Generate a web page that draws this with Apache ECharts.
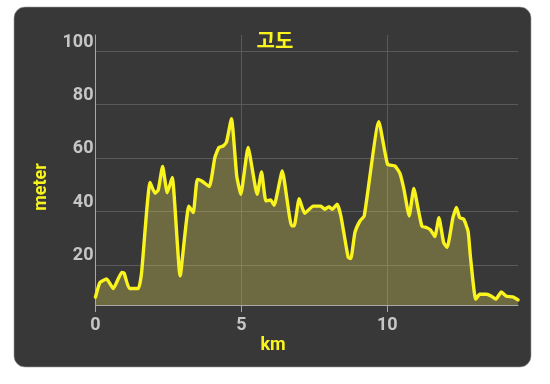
<!DOCTYPE html>
<html>
<head>
<meta charset="utf-8">
<script src="https://cdn.jsdelivr.net/npm/echarts@6/dist/echarts.min.js"></script>
<style>
html,body{margin:0;padding:0;background:#ffffff;}
#c{width:550px;height:384px;}
</style>
</head>
<body>
<div id="c"></div>
<script>
// Distance along route (km)
const distanceKm = [0.00,0.15,0.38,0.61,0.90,0.98,1.16,1.47,1.58,1.87,2.04,2.15,2.30,2.46,2.63,2.90,3.20,3.35,3.49,3.64,3.90,4.09,4.23,4.38,4.49,4.66,4.84,4.98,5.23,5.54,5.69,5.84,6.00,6.12,6.40,6.72,6.81,6.98,7.17,7.46,7.72,7.86,8.00,8.11,8.28,8.41,8.66,8.75,8.89,9.06,9.21,9.71,10.01,10.26,10.43,10.57,10.75,10.91,11.06,11.19,11.34,11.48,11.63,11.77,11.93,12.05,12.25,12.37,12.48,12.62,12.77,12.85,13.03,13.17,13.40,13.57,13.72,13.91,14.08,14.30,14.48];
// Altitude (meter)
const altitudeM = [8,13.4,14.7,11.2,17.2,17,11.2,11.2,17.2,50.8,46.8,48,56.8,47,52.7,15.9,42,39.6,52,51.4,49.3,60.1,63.9,64.5,66,74.7,53.3,46.4,63.9,46.4,54.8,43.9,44.3,42.3,55.1,34.6,34.6,44.8,39.3,42,42,40.8,41.8,40.8,42.7,38.3,22.8,22.4,32.1,36.4,38.3,73.6,57.6,57,54.3,48.3,38.3,48.6,40.8,34.4,34,33.1,30.6,37.7,28.4,26.5,37.7,41.5,37.7,37.1,32.5,23,7.2,9.0,9.0,8.3,7.2,9.9,8.3,8.0,6.9];
const xTicks = [0,5,10];
const yTicks = [20,40,60,80,100];
const titleText = '고도';
const xName = 'km';
const yName = 'meter';

const chart = echarts.init(document.getElementById('c'), null, {renderer:'canvas'});
const yellow = '#f9f41e';
const labelGray = '#c6c6c6';
chart.setOption({
  backgroundColor: '#ffffff',
  animation: false,
  graphic: [
    {type:'rect', z:-10, shape:{x:14,y:7,width:517,height:360,r:11}, style:{fill:'#383838', stroke:'#9a9a9a', lineWidth:0.6}},
    {type:'text', z:10, x:273, y:345, style:{text:xName, fill:yellow, font:'bold 18px Roboto', align:'center', verticalAlign:'middle'}},
    {type:'text', z:10, x:41, y:187, rotation:Math.PI/2, style:{text:yName, fill:yellow, font:'bold 18px Roboto', align:'center', verticalAlign:'middle'}}
  ],
  title: {
    text: titleText, left: 'center', top: 25,
    textStyle: {color: yellow, fontSize: 20, fontWeight: 'bold', fontFamily: '"Noto Sans CJK KR"'}
  },
  grid: {left: 95.5, right: 32, top: 35, bottom: 79, containLabel: false, outerBoundsMode: 'none'},
  xAxis: {
    type: 'value', min: 0, max: 14.48,
    axisLine: {show: true, lineStyle: {color: '#a8a8a8', width: 1}},
    axisTick: {show: true, length: 7, customValues: xTicks, lineStyle: {color: '#a8a8a8'}},
    axisLabel: {customValues: xTicks, color: labelGray, fontSize: 18, fontWeight: 'bold', fontFamily: 'Roboto', margin: 11},
    splitLine: {show: true, lineStyle: {color: '#5a5a5a', width: 1}}
  },
  yAxis: {
    type: 'value', min: 5, max: 106,
    axisLine: {show: true, lineStyle: {color: '#a8a8a8', width: 1}},
    axisTick: {show: false, customValues: yTicks},
    axisLabel: {customValues: yTicks, color: labelGray, fontSize: 18, fontWeight: 'bold', fontFamily: 'Roboto', margin: 2, verticalAlign: 'bottom', lineHeight: 18},
    splitLine: {show: true, lineStyle: {color: '#5a5a5a', width: 1}}
  },
  series: [{
    type: 'line',
    data: distanceKm.map((d,i)=>[d, altitudeM[i]]),
    showSymbol: false,
    smooth: 0.15,
    lineStyle: {color: yellow, width: 3.4, join: 'round', cap: 'round'},
    areaStyle: {color: 'rgba(220,208,85,0.46)', origin: 'start'}
  }]
});
</script>
</body>
</html>
